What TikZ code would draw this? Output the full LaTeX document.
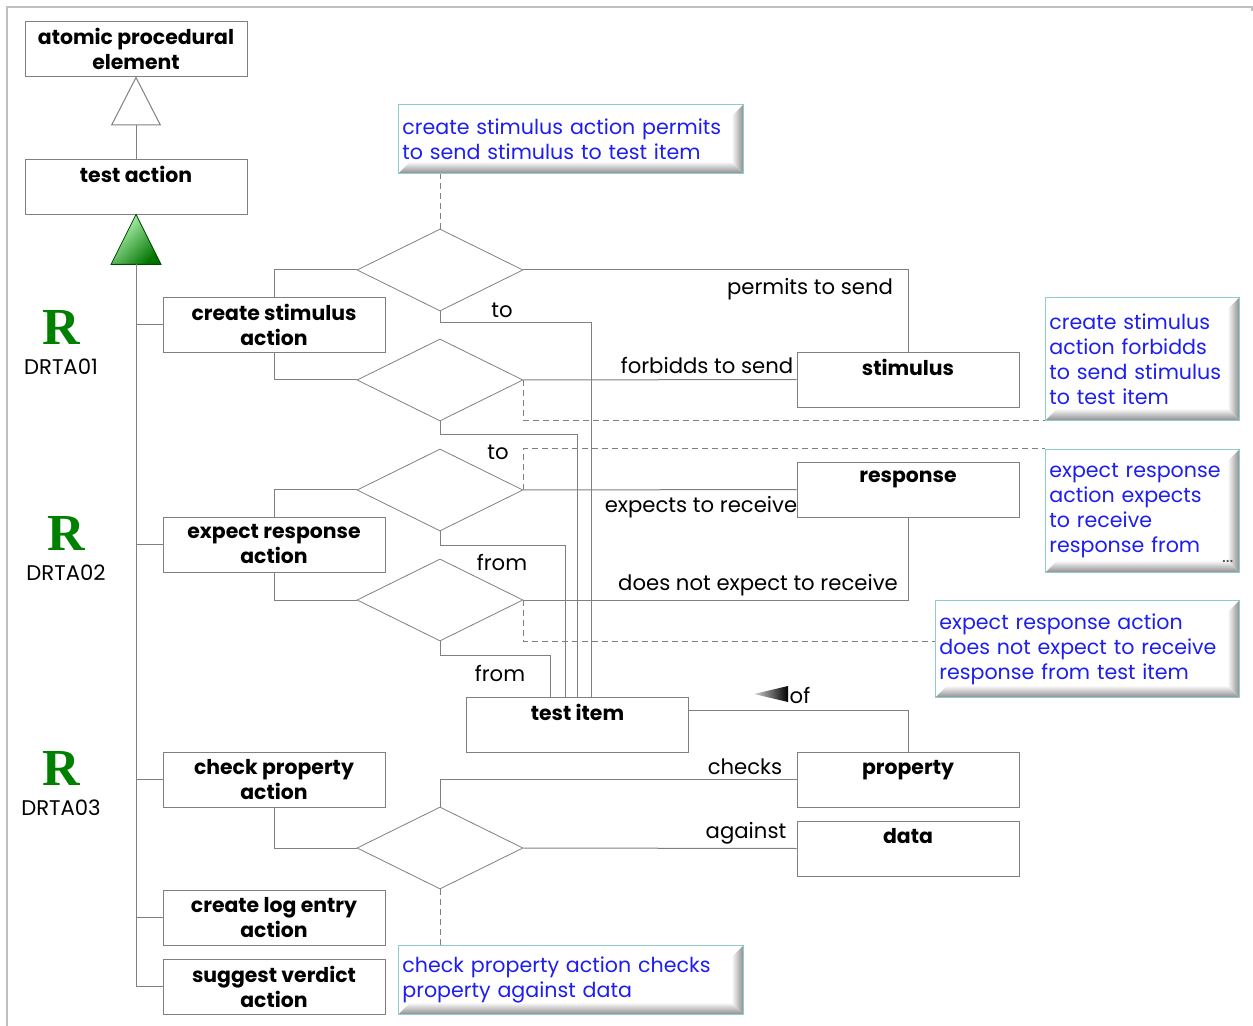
\documentclass[tikz,border=0pt]{standalone}
\usepackage{fontspec}
\setmainfont{Poppins}
\newfontfamily\rfont{Liberation Serif}
\usetikzlibrary{shapes.geometric,arrows.meta,calc}

\definecolor{linegray}{gray}{0.5}
\definecolor{framegray}{gray}{0.75}
\definecolor{notecyan}{RGB}{140,205,205}
\definecolor{notetext}{RGB}{30,30,240}
\definecolor{rgreen}{RGB}{0,128,0}

\tikzset{
  box/.style={rectangle, draw=linegray, fill=white, minimum width=111pt, minimum height=27.5pt,
    inner sep=1pt, align=center, font=\bfseries\fontsize{10.2}{12.5}\selectfont},
  rel/.style={diamond, draw=linegray, fill=white, minimum width=83pt, minimum height=41pt, inner sep=0pt},
  conn/.style={draw=linegray, line width=0.5pt},
  dashline/.style={draw=linegray, line width=0.5pt, dash pattern=on 3pt off 2pt},
  lbl/.style={font=\fontsize{10.6}{12}\selectfont, inner sep=0pt},
  bevel/.style={path picture={
    \path (path picture bounding box.south west) coordinate (bsw)
          (path picture bounding box.north east) coordinate (bne);
    \shade[left color=white, right color=black!45]
      (bne) -- ([xshift=-6pt,yshift=-6pt]bne) -- ([xshift=-6pt,yshift=6pt]bne |- bsw) -- (bne |- bsw) -- cycle;
    \shade[top color=white, bottom color=black!45]
      (bsw) -- ([xshift=6pt,yshift=6pt]bsw) -- ([xshift=-6pt,yshift=6pt]bne |- bsw) -- (bne |- bsw) -- cycle;
  }},
  note/.style={rectangle, draw=notecyan, fill=white, text=notetext, align=left, inner sep=2pt,
    anchor=north west, bevel, font=\fontsize{10.3}{12.5}\selectfont},
  rmark/.style={text=rgreen, font=\rfont\bfseries\fontsize{26}{26}\selectfont, inner sep=0pt},
  rid/.style={font=\fontsize{10.6}{12}\selectfont, inner sep=0pt}
}

\begin{document}
\begin{tikzpicture}[x=0.5pt, y=-0.5pt]
\useasboundingbox (0,0) rectangle (1253,1026);

% frame
\draw[framegray, line width=0.8pt] (7,1030) -- (7,7) -- (1252,7) -- (1252,11);

% class hierarchy
\node[box] (ape) at (136,48.5) {atomic procedural\\element};
\node[box] (testaction) at (136,186.5) {test action\\\mbox{}};
\draw[conn, -{Triangle[open, length=24.5pt, width=25pt]}] (testaction) -- (ape);

\coordinate (trunk) at ($(testaction.south)+(0,50)$);
\shadedraw[draw=green!30!black, line width=0.4pt, left color=green!25!white, right color=green!45!black, shading angle=45]
  (testaction.south) -- ($(trunk)+(-25,0)$) -- ($(trunk)+(25,0)$) -- cycle;

% actions
\node[box] (crstim) at (274,324.5) {create stimulus\\action};
\node[box] (expresp) at (274,544.5) {expect response\\action};
\node[box] (chkprop) at (274,779.5) {check property\\action};
\node[box] (logentry) at (274,917.5) {create log entry\\action};
\node[box] (verdict) at (274,986.5) {suggest verdict\\action};

\draw[conn] (trunk) |- (crstim.west);
\draw[conn] (trunk) |- (expresp.west);
\draw[conn] (trunk) |- (chkprop.west);
\draw[conn] (trunk) |- (logentry.west);
\draw[conn] (trunk) |- (verdict.west);

% requirement marks
\node[rmark] (r1) at (61,327) {R};
\node[rid] (id1) at (61,367) {DRTA01};
\node[rmark] (r2) at (66,533) {R};
\node[rid] (id2) at (66,573) {DRTA02};
\node[rmark] (r3) at (61,768) {R};
\node[rid] (id3) at (61,808) {DRTA03};

% objects
\node[box] (stimulus) at (908,379.5) {stimulus\\\mbox{}};
\node[box] (response) at (908,489.5) {response\\\mbox{}};
\node[box] (testitem) at (577.5,724.5) {test item\\\mbox{}};
\node[box] (property) at (908,779.5) {property\\\mbox{}};
\node[box] (data) at (908,848.5) {data\\\mbox{}};

% relations
\node[rel] (permits) at (440,270) {};
\node[rel] (forbids) at (440,380) {};
\node[rel] (expects) at (440,490) {};
\node[rel] (notexp) at (440,600) {};
\node[rel] (checks) at (440,848) {};

\draw[conn] (permits.west) -| (crstim.north);
\draw[conn] (permits.east) -| (stimulus.north);
\draw[conn] (permits.south) -- ++(0,11) -| ([xshift=6.75pt]testitem.north);

\draw[conn] (forbids.west) -| (crstim.south);
\draw[conn] (forbids.east) -- (stimulus.west);
\draw[conn] (forbids.south) -- ++(0,13) -| (testitem.north);

\draw[conn] (expects.west) -| (expresp.north);
\draw[conn] (expects.east) -- (response.west);
\draw[conn] (expects.south) -- ++(0,14) -| ([xshift=-6.25pt]testitem.north);

\draw[conn] (notexp.west) -| (expresp.south);
\draw[conn] (notexp.east) -| (response.south);
\draw[conn] (notexp.south) -- ++(0,14) -| ([xshift=-13.75pt]testitem.north);

\draw[conn] (checks.north) |- (property.west);
\draw[conn] (checks.east) -- (data.west);
\draw[conn] (checks.west) -| (chkprop.south);

\draw[conn] ([yshift=7.25pt]testitem.east) -| (property.north);

% role labels
\node[lbl] (l1) at (810,289) {permits to send};
\node[lbl] (l2) at (502,310) {to};
\node[lbl] (l3) at (707,365) {forbidds to send};
\node[lbl] (l4) at (498,452) {to};
\node[lbl] (l5) at (701,507) {expects to receive};
\node[lbl] (l6) at (502,562) {from};
\node[lbl] (l7) at (758,585) {does not expect to receive};
\node[lbl] (l8) at (500,673) {from};
\node[lbl] (l9) at (800,695) {of};
\node[lbl] (l10) at (745,767) {checks};
\node[lbl] (l11) at (746,833) {against};
\shade[left color=gray!35, right color=black] (754,694) -- (788,686) -- (788,702) -- cycle;

% notes
\node[note, text width=168.5pt, minimum height=34.5pt] (n1) at (398,104)
  {create stimulus action permits\\to send stimulus to test item};
\node[note, text width=93pt, minimum height=61.5pt] (n2) at (1045,297)
  {create stimulus\\action forbidds\\to send stimulus\\to test item};
\node[note, text width=93pt, minimum height=61.5pt] (n3) at (1045,449)
  {expect response\\action expects\\to receive\\response from};
\node[font=\fontsize{9}{9}\selectfont, text=black!70, anchor=south east, inner sep=0pt] (n3more)
  at ([xshift=-3pt,yshift=5pt]n3.south east) {...};
\node[note, text width=148pt, minimum height=48.5pt] (n4) at (935,600)
  {expect response action\\does not expect to receive\\response from test item};
\node[note, text width=168.5pt, minimum height=34.5pt] (n5) at (398,945)
  {check property action checks\\property against data};

\draw[dashline] (permits.north) -- (permits.north |- n1.south);
\draw[dashline] (forbids.east) |- (n2.south west);
\draw[dashline] (expects.east) |- (n3.north west);
\draw[dashline] (notexp.east) |- ([yshift=3.5pt]n4.west);
\draw[dashline] (checks.south) -- (checks.south |- n5.north);
\end{tikzpicture}
\end{document}
